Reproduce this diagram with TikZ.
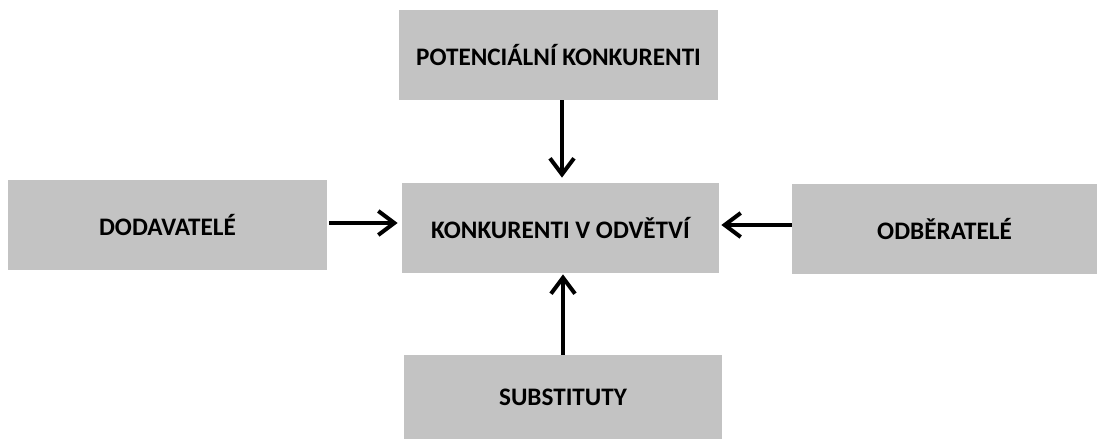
\documentclass[tikz,border=0pt]{standalone}
\usepackage{fontspec}
\setmainfont{Carlito}
\usetikzlibrary{arrows.meta}
\definecolor{boxgray}{HTML}{C3C3C3}
\tikzset{
  force/.style={fill=boxgray,minimum height=45pt,inner sep=0pt,
    font=\bfseries\fontsize{12.6}{15}\selectfont},
  arr/.style={line width=2pt,-{Straight Barb[length=8pt,width=12pt]}}
}
\begin{document}
\begin{tikzpicture}[x=0.5pt,y=-0.5pt]
\useasboundingbox (0,0) rectangle (1097,439);
\node[force,minimum width=159.5pt] (pot) at (558.5,55) {POTENCIÁLNÍ KONKURENTI};
\node[force,minimum width=158.5pt] (mid) at (560.5,228) {KONKURENTI V ODVĚTVÍ};
\node[force,minimum width=159.5pt] (dod) at (167.5,225) {DODAVATELÉ};
\node[force,minimum width=152.5pt] (odb) at (944.5,229) {ODBĚRATELÉ};
\node[force,minimum width=159pt,minimum height=42pt] (sub) at (563,397) {SUBSTITUTY};
\draw[arr,shorten >=2.5pt] ([xshift=1.75pt]pot.south) -- ([xshift=1.75pt]pot.south |- mid.north);
\draw[arr,shorten <=1pt,shorten >=2pt] ([yshift=1pt]dod.east) -- ([yshift=1pt]dod.east -| mid.west);
\draw[arr,shorten >=1pt] ([yshift=2pt]odb.west) -- ([yshift=2pt]odb.west -| mid.east);
\draw[arr,shorten >=0.5pt] (sub.north) -- (sub.north |- mid.south);
\end{tikzpicture}
\end{document}
